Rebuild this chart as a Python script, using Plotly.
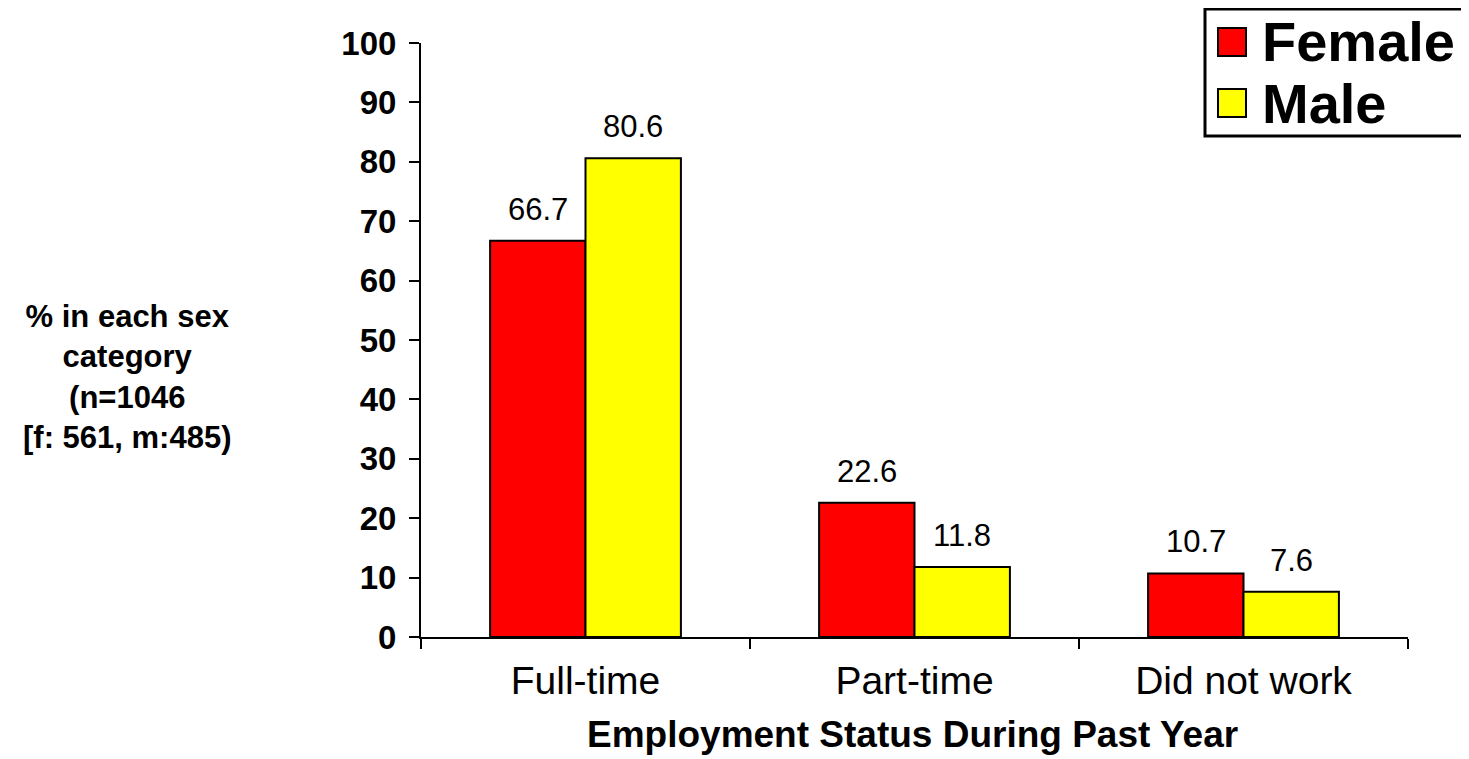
import plotly.graph_objects as go

categories = ["Full-time", "Part-time", "Did not work"]
female = [66.7, 22.6, 10.7]
male = [80.6, 11.8, 7.6]
y_ticks = [0, 10, 20, 30, 40, 50, 60, 70, 80, 90, 100]

FONT = "Liberation Sans, Arial, Helvetica, sans-serif"

# page body has an 8px margin; plot area is placed at page x 421..1408, y 43..637
fig = go.Figure()
fig.add_trace(go.Bar(name="Female", x=categories, y=female,
                     marker=dict(color="#ff0000", line=dict(color="black", width=2))))
fig.add_trace(go.Bar(name="Male", x=categories, y=male,
                     marker=dict(color="#ffff00", line=dict(color="black", width=2))))

# value labels
for vals, shift in ((female, -47.5), (male, 47.5)):
    for c, v in zip(categories, vals):
        fig.add_annotation(x=c, y=v, xref="x", yref="y", text=f"{v:.1f}",
                           showarrow=False, xshift=shift, yshift=12, yanchor="bottom",
                           font=dict(family=FONT, size=31, color="black"))

# y-axis title (horizontal)
fig.add_annotation(xref="paper", yref="paper", x=-0.298, y=0.438,
                   xanchor="center", yanchor="middle",
                   text="<b>% in each sex<br>category<br>(n=1046<br>[f: 561, m:485)</b>",
                   showarrow=False, align="center",
                   font=dict(family=FONT, size=31, color="black"))

# x-axis title
fig.add_annotation(xref="paper", yref="paper", x=(912 - 421) / 987, y=(637 - 734) / 594,
                   xanchor="center", yanchor="middle",
                   text="<b>Employment Status During Past Year</b>", showarrow=False,
                   font=dict(family=FONT, size=37, color="black"))

# manual legend
fig.add_shape(type="rect", xref="paper", yref="paper",
              x0=(1205 - 421) / 987, x1=(1480 - 421) / 987,
              y0=(637 - 136) / 594, y1=(637 - 9) / 594,
              line=dict(color="black", width=3), fillcolor="white")
for name, color, yc in (("Female", "#ff0000", 42), ("Male", "#ffff00", 103)):
    fig.add_shape(type="rect", xref="paper", yref="paper",
                  x0=(1218 - 421) / 987, x1=(1246 - 421) / 987,
                  y0=(637 - (yc + 14)) / 594, y1=(637 - (yc - 14)) / 594,
                  line=dict(color="black", width=2), fillcolor=color)
    fig.add_annotation(xref="paper", yref="paper", x=(1260 - 421) / 987,
                       y=(637 - yc) / 594, xanchor="left", yanchor="middle",
                       text=f"<b>{name}</b>", showarrow=False,
                       font=dict(family=FONT, size=56, color="black"))

fig.update_layout(
    width=1461, height=751,
    margin=dict(l=413, r=61, t=35, b=122, autoexpand=False),
    paper_bgcolor="white", plot_bgcolor="white",
    barmode="group", bargap=0.42, bargroupgap=0,
    showlegend=False,
    xaxis=dict(showline=True, linecolor="black", linewidth=2,
               ticks="outside", tickson="boundaries", ticklen=10, tickwidth=2,
               tickcolor="black", ticklabelstandoff=8, automargin=False,
               tickfont=dict(family=FONT, size=39, color="black"),
               showgrid=False, zeroline=False),
    yaxis=dict(range=[0, 100], tickvals=y_ticks, showline=True, linecolor="black",
               linewidth=2, ticks="outside", ticklen=10, tickwidth=2, tickcolor="black",
               tickfont=dict(family=FONT, size=33, color="black", weight="bold"),
               ticklabelstandoff=6, automargin=False,
               showgrid=False, zeroline=False),
)

fig.write_html("out.html")
